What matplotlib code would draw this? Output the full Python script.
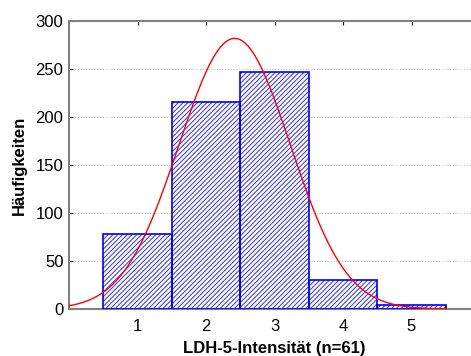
import numpy as np
import matplotlib
matplotlib.use("Agg")
import matplotlib.pyplot as plt

# Histogram data
classes = [1, 2, 3, 4, 5]
counts = [78, 216, 246.5, 30, 4]
y_ticks = [0, 50, 100, 150, 200, 250, 300]

plt.rcParams['font.family'] = ['Liberation Sans', 'DejaVu Sans']
plt.rcParams['hatch.linewidth'] = 0.7

fig = plt.figure(figsize=(4.71, 3.56), dpi=100)
ax = fig.add_axes([69 / 471, 47 / 356, 411 / 471, 288 / 356])

# bars: hatched fill, then blue outline
ax.bar(classes, counts, width=1.0, facecolor='white', edgecolor='#3030ff',
       hatch='///////', linewidth=0, zorder=2)
ax.bar(classes, counts, width=1.0, facecolor='none', edgecolor='#0000ff',
       linewidth=1.2, zorder=3)

# fitted normal curve (from the histogram counts)
x = np.array(classes, dtype=float)
c = np.array(counts)
n = c.sum()
mu = (x * c).sum() / n
sd = np.sqrt((c * (x - mu) ** 2).sum() / n)
xs = np.linspace(0, 5.5, 300)
ys = n / (sd * np.sqrt(2 * np.pi)) * np.exp(-(xs - mu) ** 2 / (2 * sd ** 2))
ax.plot(xs, ys, color='red', linewidth=1.0, zorder=4)

ax.set_xlim(0, 6)
ax.set_ylim(0, 300)
ax.set_xticks(classes)
ax.set_yticks(y_ticks)
ax.tick_params(axis='x', direction='in', top=True, length=3, pad=7, labelsize=12)
ax.tick_params(axis='y', direction='in', length=3, pad=4, labelsize=12)
ax.yaxis.grid(True, linestyle=(0, (1, 1.5)), color='#c8c8c8', linewidth=0.8, zorder=0)
ax.set_axisbelow(True)

for s in ['left', 'bottom', 'top']:
    ax.spines[s].set_color('#808080')
    ax.spines[s].set_linewidth(1.5)
ax.spines['right'].set_visible(False)

ax.set_xlabel('LDH-5-Intensität (n=61)', fontsize=12, fontweight='bold', labelpad=5)
ax.set_ylabel('Häufigkeiten', fontsize=12, fontweight='bold', labelpad=6)

fig.savefig('out.png', dpi=100)
